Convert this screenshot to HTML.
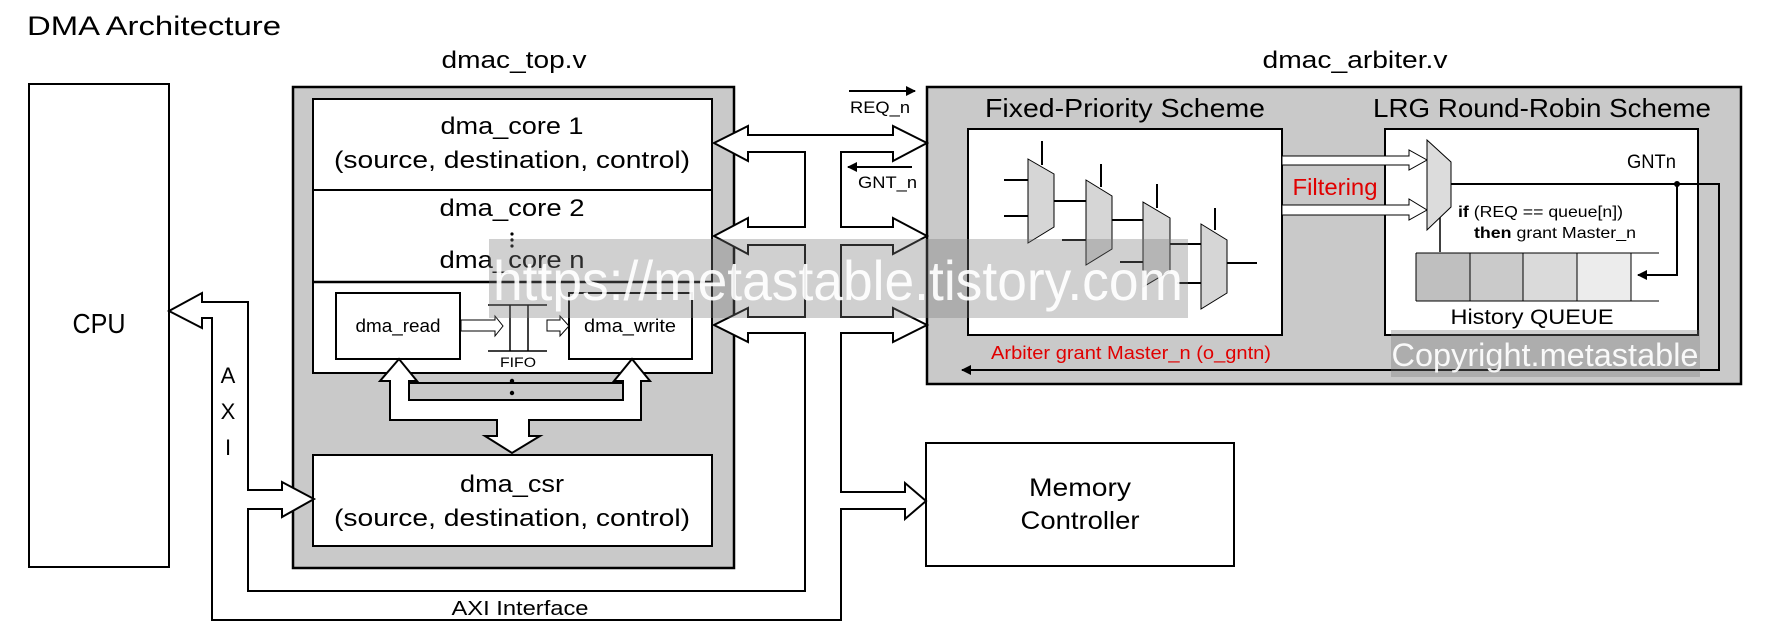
<!DOCTYPE html>
<html><head><meta charset="utf-8"><style>html,body{margin:0;padding:0;background:#fff}svg{display:block}</style></head>
<body>
<svg width="1767" height="643" viewBox="0 0 1767 643" xmlns="http://www.w3.org/2000/svg" font-family="Liberation Sans, sans-serif">
<defs>
<marker id="ah" markerWidth="10" markerHeight="10" refX="9" refY="5" orient="auto" markerUnits="userSpaceOnUse"><path d="M0,0 L10,5 L0,10 z" fill="#000"/></marker>
</defs>
<text x="27" y="35" font-size="27" textLength="254" lengthAdjust="spacingAndGlyphs">DMA Architecture</text>
<text x="514" y="68" font-size="24" text-anchor="middle" textLength="145" lengthAdjust="spacingAndGlyphs">dmac_top.v</text>
<text x="1355" y="68" font-size="24" text-anchor="middle" textLength="185" lengthAdjust="spacingAndGlyphs">dmac_arbiter.v</text>

<!-- CPU -->
<rect x="29" y="84" width="140" height="483" fill="#fff" stroke="#000" stroke-width="2"/>
<text x="99" y="333" font-size="28" text-anchor="middle" textLength="53" lengthAdjust="spacingAndGlyphs">CPU</text>

<!-- dmac_top gray -->
<rect x="293" y="87" width="441" height="481" fill="#c9c9c9" stroke="#000" stroke-width="2.5"/>
<rect x="313" y="99" width="399" height="274" fill="#fff" stroke="#000" stroke-width="2"/>
<line x1="313" y1="190" x2="712" y2="190" stroke="#000" stroke-width="2"/>
<line x1="313" y1="282" x2="712" y2="282" stroke="#000" stroke-width="2.5"/>
<text x="512" y="134" font-size="24" text-anchor="middle" textLength="143" lengthAdjust="spacingAndGlyphs">dma_core 1</text>
<text x="512" y="168" font-size="24" text-anchor="middle" textLength="356" lengthAdjust="spacingAndGlyphs">(source, destination, control)</text>
<text x="512" y="216" font-size="24" text-anchor="middle" textLength="145" lengthAdjust="spacingAndGlyphs">dma_core 2</text>
<circle cx="512" cy="234" r="1.6"/><circle cx="512" cy="240" r="1.6"/><circle cx="512" cy="246" r="1.6"/>
<text x="512" y="268" font-size="24" text-anchor="middle" textLength="145" lengthAdjust="spacingAndGlyphs">dma_core n</text>

<rect x="336" y="293" width="124" height="66" fill="#fff" stroke="#000" stroke-width="2"/>
<text x="398" y="332" font-size="18" text-anchor="middle" textLength="85" lengthAdjust="spacingAndGlyphs">dma_read</text>
<rect x="569" y="293" width="123" height="66" fill="#fff" stroke="#000" stroke-width="2"/>
<text x="630" y="332" font-size="18" text-anchor="middle" textLength="92" lengthAdjust="spacingAndGlyphs">dma_write</text>
<!-- FIFO -->
<line x1="488" y1="305" x2="547" y2="305" stroke="#000" stroke-width="1.5"/>
<line x1="488" y1="351" x2="547" y2="351" stroke="#000" stroke-width="1.5"/>
<line x1="510" y1="305" x2="510" y2="351" stroke="#000" stroke-width="1.5"/>
<line x1="528" y1="305" x2="528" y2="351" stroke="#000" stroke-width="1.5"/>
<text x="518" y="367" font-size="14" text-anchor="middle" textLength="36" lengthAdjust="spacingAndGlyphs">FIFO</text>
<polygon points="461,320 495,320 495,316 503,326 495,336 495,331 461,331" fill="#fff" stroke="#000" stroke-width="1"/>
<polygon points="547,320 560,320 560,316 569,326 560,336 560,331 547,331" fill="#fff" stroke="#000" stroke-width="1"/>

<!-- internal bus -->
<polygon points="380,381 399,359 417,381 409,381 409,383 623,383 623,381 614,381 632,359 650,381 641,381 641,420 529,420 529,436 540,436 512,453 485,436 497,436 497,420 390,420 390,381" fill="#fff" stroke="#000" stroke-width="2"/>
<rect x="409" y="383" width="214" height="17" fill="#c9c9c9" stroke="#000" stroke-width="2"/>
<circle cx="512" cy="381" r="2.2"/><circle cx="512" cy="393" r="2.2"/>

<rect x="313" y="455" width="399" height="91" fill="#fff" stroke="#000" stroke-width="2"/>
<text x="512" y="492" font-size="24" text-anchor="middle" textLength="104" lengthAdjust="spacingAndGlyphs">dma_csr</text>
<text x="512" y="526" font-size="24" text-anchor="middle" textLength="356" lengthAdjust="spacingAndGlyphs">(source, destination, control)</text>

<!-- Arbiter gray -->
<rect x="927" y="87" width="814" height="297" fill="#c9c9c9" stroke="#000" stroke-width="2.5"/>
<text x="1125" y="117" font-size="26" text-anchor="middle" textLength="280" lengthAdjust="spacingAndGlyphs">Fixed-Priority Scheme</text>
<text x="1542" y="117" font-size="26" text-anchor="middle" textLength="338" lengthAdjust="spacingAndGlyphs">LRG Round-Robin Scheme</text>
<rect x="968" y="129" width="314" height="206" fill="#fff" stroke="#000" stroke-width="2"/>
<rect x="1385" y="129" width="313" height="206" fill="#fff" stroke="#000" stroke-width="2"/>

<!-- fixed priority muxes -->
<g stroke="#000" stroke-width="2" fill="none">
<line x1="1042" y1="141" x2="1042" y2="165"/>
<line x1="1004" y1="180" x2="1028" y2="180"/><line x1="1004" y1="216" x2="1028" y2="216"/>
<line x1="1054" y1="201" x2="1086" y2="201"/><line x1="1062" y1="240" x2="1086" y2="240"/>
<line x1="1101" y1="164" x2="1101" y2="187"/>
<line x1="1112" y1="220" x2="1143" y2="220"/><line x1="1120" y1="262" x2="1143" y2="262"/>
<line x1="1157" y1="184" x2="1157" y2="208"/>
<line x1="1170" y1="244" x2="1201" y2="244"/><line x1="1177" y1="283" x2="1201" y2="283"/>
<line x1="1215" y1="208" x2="1215" y2="230"/>
<line x1="1227" y1="263" x2="1257" y2="263"/>
</g>
<g fill="#d6d6d6" stroke="#000" stroke-width="1">
<polygon points="1028,159 1054,174 1054,227 1028,243"/>
<polygon points="1086,180 1112,196 1112,249 1086,265"/>
<polygon points="1143,202 1170,218 1170,271 1143,287"/>
<polygon points="1201,224 1227,240 1227,293 1201,309"/>
</g>

<!-- filtering arrows -->
<polygon points="1282,156 1409,156 1409,150 1427,160 1409,170 1409,165 1282,165" fill="#fff" stroke="#000" stroke-width="1"/>
<polygon points="1282,205 1409,205 1409,199 1427,210 1409,220 1409,215 1282,215" fill="#fff" stroke="#000" stroke-width="1"/>
<text x="1335" y="195" font-size="23" fill="#e00000" text-anchor="middle" textLength="85" lengthAdjust="spacingAndGlyphs">Filtering</text>

<!-- LRG mux -->
<line x1="1440" y1="217" x2="1440" y2="252" stroke="#000" stroke-width="1.5"/>
<polygon points="1427,140 1451,162 1451,207 1427,230" fill="#dcdcdc" stroke="#000" stroke-width="1"/>
<polyline points="1451,184 1719,184 1719,370 962,370" fill="none" stroke="#000" stroke-width="2" marker-end="url(#ah)"/>
<polyline points="1677,184 1677,275 1638,275" fill="none" stroke="#000" stroke-width="2" marker-end="url(#ah)"/>
<circle cx="1677" cy="184" r="3"/>
<text x="1676" y="168" font-size="19" text-anchor="end" textLength="49" lengthAdjust="spacingAndGlyphs">GNTn</text>
<text x="1458" y="217" font-size="16" textLength="165" lengthAdjust="spacingAndGlyphs"><tspan font-weight="bold">if</tspan> (REQ == queue[n])</text>
<text x="1474" y="238" font-size="16" textLength="162" lengthAdjust="spacingAndGlyphs"><tspan font-weight="bold">then</tspan> grant Master_n</text>
<rect x="1416" y="253" width="54" height="48" fill="#bfbfbf"/>
<rect x="1470" y="253" width="53" height="48" fill="#cacaca"/>
<rect x="1523" y="253" width="54" height="48" fill="#dadada"/>
<rect x="1577" y="253" width="54" height="48" fill="#ececec"/>
<g stroke="#000" stroke-width="1">
<line x1="1416" y1="253" x2="1659" y2="253"/><line x1="1416" y1="301" x2="1659" y2="301"/>
<line x1="1416" y1="253" x2="1416" y2="301"/><line x1="1470" y1="253" x2="1470" y2="301"/>
<line x1="1523" y1="253" x2="1523" y2="301"/><line x1="1577" y1="253" x2="1577" y2="301"/><line x1="1631" y1="253" x2="1631" y2="301"/>
</g>
<text x="1532" y="324" font-size="21" text-anchor="middle" textLength="163" lengthAdjust="spacingAndGlyphs">History QUEUE</text>
<text x="1131" y="359" font-size="18" fill="#e00000" text-anchor="middle" textLength="280" lengthAdjust="spacingAndGlyphs">Arbiter grant Master_n (o_gntn)</text>

<!-- Memory -->
<rect x="926" y="443" width="308" height="123" fill="#fff" stroke="#000" stroke-width="2"/>
<text x="1080" y="496" font-size="25" text-anchor="middle" textLength="102" lengthAdjust="spacingAndGlyphs">Memory</text>
<text x="1080" y="529" font-size="25" text-anchor="middle" textLength="119" lengthAdjust="spacingAndGlyphs">Controller</text>

<!-- big bus -->
<polygon points="748,135 748,126 714,143 748,161 748,152 805,152 805,227 748,227 748,218 714,236 748,254 748,245 805,245 805,317 748,317 748,308 714,325 748,342 748,333 805,333 805,591 248,591 248,509 282,509 282,517 314,499 282,482 282,490 248,490 248,302 202,302 202,293 169,311 202,328 202,318 212,318 212,620 841,620 841,509 905,509 905,519 926,501 905,483 905,492 841,492 841,333 893,333 893,342 927,325 893,308 893,317 841,317 841,245 893,245 893,254 927,236 893,218 893,227 841,227 841,152 893,152 893,161 927,143 893,126 893,135" fill="#fff" stroke="#000" stroke-width="2" stroke-linejoin="miter"/>

<line x1="849" y1="91" x2="915" y2="91" stroke="#000" stroke-width="2" marker-end="url(#ah)"/>
<text x="850" y="113" font-size="17" textLength="60" lengthAdjust="spacingAndGlyphs">REQ_n</text>
<line x1="912" y1="167" x2="848" y2="167" stroke="#000" stroke-width="2" marker-end="url(#ah)"/>
<text x="858" y="188" font-size="17" textLength="59" lengthAdjust="spacingAndGlyphs">GNT_n</text>

<text x="228" y="383" font-size="22" text-anchor="middle">A</text>
<text x="228" y="419" font-size="22" text-anchor="middle">X</text>
<text x="228" y="455" font-size="22" text-anchor="middle">I</text>
<text x="520" y="615" font-size="20" text-anchor="middle" textLength="137" lengthAdjust="spacingAndGlyphs">AXI Interface</text>

<!-- watermarks -->
<rect x="489" y="239" width="699" height="79" fill="rgba(120,120,120,0.35)"/>
<text x="838" y="300" font-size="56" fill="#fff" fill-opacity="0.92" text-anchor="middle" textLength="690" lengthAdjust="spacingAndGlyphs">https://metastable.tistory.com</text>
<rect x="1391" y="330" width="309" height="47" fill="rgba(120,120,120,0.35)"/>
<text x="1545" y="366" font-size="32" fill="#fff" fill-opacity="0.92" text-anchor="middle" textLength="307" lengthAdjust="spacingAndGlyphs">Copyright.metastable</text>
</svg>
</body></html>
